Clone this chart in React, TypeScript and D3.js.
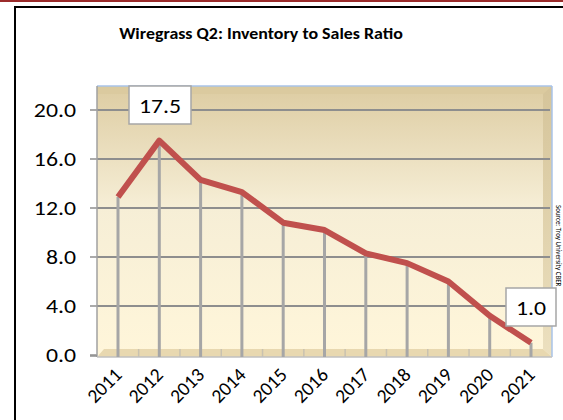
import React from "react";
import * as d3 from "d3";

const years = ["2011","2012","2013","2014","2015","2016","2017","2018","2019","2020","2021"];
const ratios = [12.9, 17.5, 14.3, 13.3, 10.8, 10.2, 8.3, 7.5, 6.0, 3.2, 1.0];
const yTicks = [0, 4, 8, 12, 16, 20];
const titleText = "Wiregrass Q2: Inventory to Sales Ratio";
const sideNote = "Source: Troy University CBER";

export default function App() {
  const W = 563, H = 420;
  const left = 97, right = 552, top = 86, bottom = 355;
  const x = d3.scalePoint<string>().domain(years).range([118, 531]);
  const y = d3.scaleLinear().domain([0, 20]).range([bottom, 110]);
  const line = d3.line<number>().x((_, i) => x(years[i])!).y(d => y(d));
  const fmt = d3.format(".1f");
  const boxes = [
    { i: 1, x0: 129, y0: 86, w: 62, h: 38 },
    { i: 10, x0: 506, y0: 288, w: 50, h: 38 },
  ];
  return (
    <svg width={W} height={H} style={{ position: "absolute", left: 0, top: 0, display: "block" }}
      fontFamily="Carlito, Lato, 'Liberation Sans', Arial, sans-serif">
      <defs>
        <linearGradient id="wall" x1="0" y1="0" x2="0" y2="1">
          <stop offset="0" stopColor="#ddcca2" />
          <stop offset="0.45" stopColor="#f6eed6" />
          <stop offset="1" stopColor="#fff6da" />
        </linearGradient>
        <linearGradient id="side" x1="0" y1="0" x2="0" y2="1">
          <stop offset="0" stopColor="#d5c49a" />
          <stop offset="1" stopColor="#ece0bf" />
        </linearGradient>
      </defs>
      <rect x={0} y={0} width={W} height={H} fill="#ffffff" />
      <line x1={0} x2={W} y1={1} y2={1} stroke="#9b2b2b" strokeWidth={2} />
      <line x1={15} x2={W} y1={7} y2={7} stroke="#000" strokeWidth={2} />
      <line x1={15} x2={15} y1={6} y2={H} stroke="#000" strokeWidth={2} />
      <text transform={`translate(261,39) scale(1.12,1)`} textAnchor="middle" fontSize={16} fontWeight="bold" fill="#000">
        {titleText}
      </text>
      {/* back wall */}
      <rect x={left} y={top} width={right - left} height={bottom - top} fill="url(#wall)" />
      <rect x={left} y={top} width={right - left} height={8} fill="#dac99d" opacity={0.8} />
      <polygon points={`${right - 9},${top + 8} ${right},${top} ${right},${bottom + 2} ${right - 9},${bottom - 6}`} fill="url(#side)" />
      <line x1={left} x2={right} y1={top} y2={top} stroke="#a9c3e8" strokeWidth={1.5} />
      <line x1={right} x2={right} y1={top} y2={bottom + 2} stroke="#a9c3e8" strokeWidth={1.5} />
      {/* floor */}
      <polygon points={`${left},${bottom + 2} ${left + 7},${bottom - 6} ${right - 9},${bottom - 6} ${right},${bottom + 2}`} fill="#e8d8b0" />
      {years.map((yr, i) => {
        const bx = x(yr)! + x.step() / 2;
        return i < years.length - 1 ? (
          <line key={"ft" + yr} x1={bx} x2={bx} y1={bottom - 6} y2={bottom + 2} stroke="#c9c2b0" strokeWidth={1.5} />
        ) : null;
      })}
      {/* gridlines & ticks */}
      {yTicks.map(t => (
        <g key={t}>
          {t > 0 && <line x1={left} x2={right - 2} y1={y(t)} y2={y(t)} stroke="#8e8e8e" strokeWidth={2} />}
          <line x1={90} x2={left} y1={y(t)} y2={y(t)} stroke="#8e8e8e" strokeWidth={1.5} />
          <text transform={`translate(76,${y(t) + 7}) scale(1.16,1)`} textAnchor="end" fontSize={20.5} fill="#000">{fmt(t)}</text>
        </g>
      ))}
      <line x1={left} x2={left} y1={top} y2={bottom + 2} stroke="#a0a0a0" strokeWidth={1.5} />
      <line x1={90} x2={left} y1={bottom + 1} y2={bottom + 1} stroke="#8e8e8e" strokeWidth={1.5} />
      <line x1={left} x2={right} y1={bottom + 2} y2={bottom + 2} stroke="#c0c0c0" strokeWidth={1.5} />
      {/* drop lines */}
      {ratios.map((v, i) => (
        <line key={"d" + i} x1={x(years[i])} x2={x(years[i])} y1={y(v)} y2={bottom + 2}
          stroke="#a6a6a6" strokeWidth={3} />
      ))}
      <path d={line(ratios)!} fill="none" stroke="#c0504d" strokeWidth={6} strokeLinejoin="round" />
      {/* x labels */}
      {years.map(yr => (
        <text key={yr} transform={`translate(${x(yr)! + 5},${376}) rotate(-45)`} textAnchor="end"
          fontSize={19.5} fill="#000">{yr}</text>
      ))}
      {/* data labels */}
      {boxes.map(b => (
        <g key={"b" + b.i}>
          <rect x={b.x0} y={b.y0} width={b.w} height={b.h} fill="#fff" stroke="#a6a6a6" strokeWidth={1.5} />
          <text transform={`translate(${b.x0 + b.w / 2},${b.y0 + b.h / 2 + 7.5}) scale(1.16,1)`} textAnchor="middle" fontSize={20.5} fill="#000">
            {fmt(ratios[b.i])}
          </text>
        </g>
      ))}
      <text transform={`translate(556,205) rotate(90)`} fontSize={7} fill="#000">{sideNote}</text>
    </svg>
  );
}
